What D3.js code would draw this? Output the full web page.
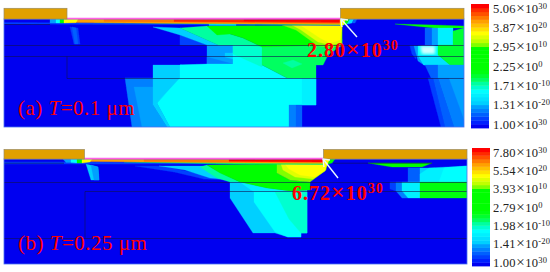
<!DOCTYPE html>
<html lang="en">
<head>
<meta charset="UTF-8">
<title>Contour panels</title>
<script src="https://d3js.org/d3.v7.min.js"></script>
<style>
html, body { margin: 0; padding: 0; background: #fff; }
svg { display: block; }
text { font-family: "Liberation Serif", serif; }
</style>
</head>
<body>
<svg width="550" height="272"></svg>
<script>
// colour bar levels, bottom to top
var levelColors = ['#0000f0', '#0020ff', '#0040ff', '#0060ff', '#0080ff', '#00a0ff', '#00d0ff', '#00e0ff',
    '#00f0ff', '#00ffff', '#00ffd0', '#00ffa0', '#00ff60', '#00ff30', '#00ff10', '#00ff00',
    '#00ff00', '#00ff00', '#00ff00', '#00ff00', '#00ff00', '#80ff00', '#c0ff00', '#e0ff00',
    '#ffff00', '#ffe000', '#ffc000', '#ffa000', '#ff7800', '#ff5000', '#ff2a00', '#ff0000'];

var tickMantissaA = ['1.00', '1.31', '1.71', '2.25', '2.95', '3.87', '5.06'];
var tickMantissaB = ['1.00', '1.41', '1.98', '2.79', '3.93', '5.54', '7.80'];
var tickExponents = ['30', '-20', '-10', '0', '10', '20', '30'];

// [level, outline] in panel units, painted in order
var regionsA = [
    [0, [[0, 0], [460, 0], [460, 108], [0, 108]]],
    [2, [[66, 8], [74, 9], [76, 25], [70, 25]]],
    [3, [[68, 8], [72, 9], [74, 25], [71, 25]]],
    [4, [[121, 59], [149, 59], [149, 108], [128, 108]]],
    [5, [[130, 68], [149, 68], [149, 86], [163, 108], [138, 108]]],
    [6, [[149, 46], [178, 46], [178, 59], [153, 84], [166, 108], [163, 108], [149, 86]]],
    [9, [[176, 46], [258, 46], [283, 59], [312, 59], [312, 86], [285, 86], [285, 108], [166, 108], [153, 84], [176, 59]]],
    [8, [[298, 59], [312, 59], [312, 86], [298, 86]]],
    [4, [[285, 86], [292, 86], [292, 108], [285, 108]]],
    [3, [[292, 86], [298, 86], [298, 108], [292, 108]]],
    [2, [[176, 16], [203, 26], [176, 26]]],
    [6, [[149, 8], [176, 9], [214, 26], [203, 26], [176, 16]]],
    [5, [[203, 26], [229, 26], [229, 45], [203, 45]]],
    [4, [[203, 38], [229, 45], [203, 45]]],
    [6, [[221, 34], [229, 34], [229, 40], [221, 38]]],
    [9, [[214, 26], [229, 26], [258, 27], [258, 46], [176, 46], [203, 45], [229, 45], [229, 26]]],
    [10, [[229, 26], [258, 27], [258, 48], [229, 35]]],
    [12, [[258, 27], [258, 46], [283, 59], [312, 59], [312, 46], [319, 46], [324, 36], [338, 26], [338, 20]]],
    [11, [[279, 44], [289, 41], [298, 45], [288, 49]]],
    [11, [[176, 9], [203, 7], [226, 15], [239, 19], [258, 28], [236, 26], [214, 26]]],
    [15, [[203, 7], [338, 6], [338, 26], [258, 28], [239, 19], [226, 15], [213, 16]]],
    [21, [[278, 6], [338, 6], [338, 27], [326, 28], [314, 27], [292, 11]]],
    [23, [[288, 6], [338, 6], [337, 24], [326, 26], [314, 23], [297, 11]]],
    [24, [[296, 6], [338, 6], [336, 21], [326, 24], [316, 19], [304, 11]]],
    // surface layer
    [2, [[0, 3.5], [336, 5], [336, 6.5], [0, 5]]],
    [6, [[205, 5], [232, 5], [232, 6.5], [205, 6.5]]],
    [12, [[90, 3.5], [336, 4.5], [336, 6], [240, 5]]],
    [27, [[63, 0], [336, 0], [336, 5.5], [63, 3.5]]],
    [28, [[100, 0], [336, 0], [336, 4.5], [100, 2.5]]],
    [30, [[170, 0.5], [336, 0], [336, 3.8], [170, 2.5]]],
    [31, [[240, 0.5], [336, 0], [336, 3], [240, 2]]],
    [5, [[46, 0], [52, 0], [52, 4], [46, 4]]],
    [9, [[52, 0], [56, 0], [56, 4], [52, 4]]],
    [15, [[56, 0], [60, 0], [60, 4], [56, 4]]],
    [24, [[60, 0], [74, 0], [72, 3.5], [60, 4]]],
    [24, [[336, 0], [342, 0], [340, 6], [336, 6]]],
    [15, [[342, 0], [346, 0], [343, 5], [340, 6]]],
    [7, [[346, 0], [350, 0], [348, 4], [343, 5]]],
    [3, [[350, 0], [353, 0], [351, 4], [348, 4]]],
    // right side
    [15, [[391, 5], [430, 6], [460, 7], [460, 9], [430, 9]]],
    [3, [[421, 9], [428, 9], [428, 26], [421, 26]]],
    [5, [[428, 9], [434, 9], [434, 26], [428, 26]]],
    [8, [[434, 9], [449, 9], [449, 26], [434, 26]]],
    [2, [[406, 27], [412, 27], [412, 40], [408, 35]]],
    [5, [[410, 27], [416, 27], [420, 46], [414, 42]]],
    [9, [[414, 27], [434, 27], [434, 36], [446, 46], [420, 46], [414, 36]]],
    [7, [[414, 36], [434, 36], [446, 46], [420, 46]]],
    [13, [[449, 12], [460, 9], [460, 46], [446, 46], [434, 36], [434, 26], [449, 26]]],
    [3, [[421, 46], [434, 46], [434, 59], [427, 59]]],
    [5, [[434, 46], [460, 46], [460, 59], [434, 59]]],
    [2, [[424, 59], [429, 59], [441, 108], [437, 108]]],
    [3, [[429, 59], [434, 59], [450, 108], [441, 108]]],
    [4, [[434, 59], [460, 59], [460, 108], [450, 108]]],
    [5, [[445, 59], [460, 59], [460, 100]]]
];

var regionsB = [
    [0, [[0, 0], [463, 0], [463, 105], [0, 105]]],
    [6, [[82, 5], [94, 8], [95, 21], [87, 21]]],
    [5, [[87, 6], [94, 8], [95, 21], [90, 21]]],
    [2, [[131, 7], [155, 7], [187, 13], [230, 21], [200, 20], [170, 13]]],
    [6, [[155, 7], [203, 7], [231, 21], [206, 19], [181, 11]]],
    [11, [[196, 8], [203, 6], [216, 14], [236, 23], [226, 23], [213, 19]]],
    [6, [[226, 23], [226, 39], [249, 74], [271, 74], [284, 78], [297, 78], [297, 74], [303, 74], [303, 31], [286, 32], [263, 29], [236, 23]]],
    [9, [[250, 33], [250, 43], [271, 73], [284, 78], [297, 78], [297, 74], [303, 74], [303, 33]]],
    [10, [[271, 33], [303, 33], [303, 74], [297, 74], [285, 60]]],
    [8, [[236, 23], [263, 29], [286, 32], [303, 32], [250, 33]]],
    [15, [[203, 6], [273, 5], [273, 14], [286, 21], [306, 23], [306, 31], [286, 32], [263, 29], [236, 23], [216, 14]]],
    [21, [[273, 5], [323, 5], [322, 11], [306, 23], [286, 21], [273, 14]]],
    [23, [[277, 5], [323, 5], [321, 12], [309, 20], [291, 18], [279, 11]]],
    [24, [[281, 5], [323, 5], [321, 11], [311, 18], [296, 16], [285, 10]]],
    // surface layer
    [2, [[0, 3], [80, 3], [319, 5], [0, 5]]],
    [12, [[120, 3], [319, 3.5], [319, 5.5], [230, 5]]],
    [27, [[81, 0], [319, 0], [319, 4.5], [81, 2.5]]],
    [28, [[140, 0], [319, 0], [319, 3.5], [140, 2.5]]],
    [31, [[225, 0.5], [319, 0], [319, 3], [225, 2.2]]],
    [5, [[59, 0], [67, 0], [67, 3.5], [62, 3.5]]],
    [9, [[67, 0], [73, 0], [73, 4], [67, 3.5]]],
    [15, [[73, 0], [78, 0], [78, 4], [73, 4]]],
    [24, [[78, 0], [88, 0], [86, 3], [78, 4]]],
    [24, [[319, 0], [326, 0], [324, 5], [319, 6]]],
    [15, [[326, 0], [331, 0], [328, 4], [324, 5]]],
    // right side
    [15, [[364, 4], [428, 4], [418, 8], [388, 8]]],
    [3, [[404, 9], [416, 9], [416, 23], [404, 23]]],
    [6, [[416, 9], [431, 9], [431, 23], [416, 23]]],
    [8, [[425, 9], [463, 7], [463, 23], [416, 23], [416, 15]]],
    [9, [[440, 9], [463, 7], [463, 23], [435, 23]]],
    [2, [[386, 23], [392, 23], [392, 32], [386, 30]]],
    [4, [[392, 23], [398, 23], [398, 32], [404, 39], [398, 39], [392, 32]]],
    [8, [[398, 23], [416, 23], [416, 39], [404, 39], [398, 32]]],
    [14, [[416, 23], [463, 23], [463, 39], [416, 39]]]
];

// pale patch on the right of panel (a)
var glareA = [[416, 27], [431, 27], [431, 35], [418, 35]];

var linesA = [[0, 26, 460, 26], [0, 37, 460, 37], [63, 59, 460, 59], [63, 37, 63, 59], [0, 5, 46, 5]];
var linesB = [[0, 23, 463, 23], [81, 32, 463, 32], [0, 79, 463, 79], [81, 32, 81, 79], [0, 3.7, 60, 3.7], [329, 3.7, 428, 3.7]];

var panels = [
    {
        regions: regionsA, lines: linesA, glare: glareA, w: 460, h: 108, x0: 4, y0: 19,
        gates: [[0, 63], [336.5, 460]], gateH: 10.7,
        peak: '2.80', peakX: 307, peakY: 57, tip: [337, 0], tail: [353, 18],
        name: '(a) ', val: '=0.1 μm', nameX: 18, nameY: 115,
        bar: [471, 489, 128, 4], mant: tickMantissaA, tickY: [125, 9]
    },
    {
        regions: regionsB, lines: linesB, glare: null, w: 463, h: 105, x0: 4, y0: 159,
        gates: [[0, 80.5], [319.5, 463]], gateH: 9.5,
        peak: '6.72', peakX: 292, peakY: 200, tip: [319, 0], tail: [334, 19],
        name: '(b) ', val: '=0.25 μm', nameX: 18, nameY: 250,
        bar: [472, 490, 266, 148], mant: tickMantissaB, tickY: [263, 153]
    }
];

var svg = d3.select('svg');
var defs = svg.append('defs');
defs.append('filter').attr('id', 'soft')
    .append('feGaussianBlur').attr('stdDeviation', 0.45);
defs.append('filter').attr('id', 'softer')
    .append('feGaussianBlur').attr('stdDeviation', 1.6);

var levelIdx = d3.range(levelColors.length);
var color = d3.scaleOrdinal().domain(levelIdx).range(levelColors);

panels.forEach(function(p, n) {
    var x = d3.scaleLinear().domain([0, p.w]).range([p.x0, p.x0 + p.w]);
    var y = d3.scaleLinear().domain([0, p.h]).range([p.y0, p.y0 + p.h]);
    var outline = d3.line().x(function(d) { return x(d[0]); }).y(function(d) { return y(d[1]); })
        .curve(d3.curveLinearClosed);

    var clipId = 'clip' + n;
    defs.append('clipPath').attr('id', clipId).append('rect')
        .attr('x', x(0)).attr('y', y(0)).attr('width', p.w).attr('height', p.h);

    var g = svg.append('g');
    g.append('g').attr('clip-path', 'url(#' + clipId + ')').attr('filter', 'url(#soft)')
        .selectAll('path').data(p.regions).enter().append('path')
        .attr('d', function(d) { return outline(d[1]); })
        .attr('fill', function(d) { return color(d[0]); })
        .attr('stroke', function(d) { return color(d[0]); })
        .attr('stroke-width', 0.3);

    if (p.glare) {
        g.append('path').attr('d', outline(p.glare))
            .attr('fill', '#d0ffff').attr('filter', 'url(#softer)');
    }

    g.selectAll('line.mesh').data(p.lines).enter().append('line')
        .attr('class', 'mesh')
        .attr('x1', function(d) { return x(d[0]); }).attr('y1', function(d) { return y(d[1]) + 0.5; })
        .attr('x2', function(d) { return x(d[2]); }).attr('y2', function(d) { return y(d[3]) + 0.5; })
        .attr('stroke', '#101050').attr('stroke-opacity', 0.75).attr('stroke-width', 0.8);

    // outer edge of the device
    g.append('rect').attr('x', x(0)).attr('y', y(0)).attr('width', p.w).attr('height', p.h)
        .attr('fill', 'none').attr('stroke', '#4a70f0').attr('stroke-width', 0.8);

    // surface line between the contacts
    g.append('line').attr('x1', x(p.gates[0][1])).attr('x2', x(p.gates[1][0]))
        .attr('y1', y(0) - 0.5).attr('y2', y(0) - 0.5)
        .attr('stroke', '#ff60e8').attr('stroke-width', 1.4);

    g.selectAll('rect.gate').data(p.gates).enter().append('rect')
        .attr('class', 'gate')
        .attr('x', function(d) { return x(d[0]); })
        .attr('y', y(0) - p.gateH)
        .attr('width', function(d) { return x(d[1]) - x(d[0]); })
        .attr('height', p.gateH)
        .attr('fill', '#e0a000').attr('stroke', '#9a8a60').attr('stroke-width', 0.7);

    // arrow to the peak
    var tip = [x(p.tip[0]), y(p.tip[1])], tail = [x(p.tail[0]), y(p.tail[1])];
    g.append('line').attr('x1', tail[0]).attr('y1', tail[1]).attr('x2', tip[0]).attr('y2', tip[1])
        .attr('stroke', '#e8f8ff').attr('stroke-width', 1.4);
    g.append('path').attr('d', 'M' + (tip[0] + 7) + ',' + (tip[1] + 1) + 'L' + tip[0] + ',' + tip[1] + 'L' + (tip[0] + 1) + ',' + (tip[1] + 8))
        .attr('fill', 'none').attr('stroke', '#e8f8ff').attr('stroke-width', 1.3);

    // peak label
    var peak = g.append('text').attr('x', p.peakX).attr('y', p.peakY)
        .attr('fill', '#ff0000').attr('font-weight', 'bold').attr('font-size', 20).attr('letter-spacing', 1);
    peak.append('tspan').text(p.peak);
    peak.append('tspan').attr('font-size', 24).text('×');
    peak.append('tspan').text('10');
    peak.append('tspan').attr('dy', -7).attr('font-size', 14).text('30');

    // panel name
    var name = g.append('text').attr('x', p.nameX).attr('y', p.nameY)
        .attr('fill', '#ff0000').attr('font-size', 21).attr('letter-spacing', 0.5);
    name.append('tspan').text(p.name);
    name.append('tspan').attr('font-style', 'italic').text('T');
    name.append('tspan').text(p.val);

    // colour bar
    var bar = d3.scaleBand().domain(levelIdx).range([p.bar[2], p.bar[3]]);
    g.selectAll('rect.band').data(levelIdx).enter().append('rect')
        .attr('class', 'band')
        .attr('x', p.bar[0]).attr('width', p.bar[1] - p.bar[0])
        .attr('y', function(d) { return bar(d); })
        .attr('height', bar.bandwidth() + 0.4)
        .attr('fill', function(d) { return color(d); });

    var tickPos = d3.scalePoint().domain(d3.range(p.mant.length)).range(p.tickY);
    var ticks = g.selectAll('text.tick').data(p.mant).enter().append('text')
        .attr('class', 'tick')
        .attr('x', 493)
        .attr('y', function(d, i) { return tickPos(i) + 3.5; })
        .attr('fill', '#222').attr('font-size', 12.5).attr('letter-spacing', 0.2);
    ticks.append('tspan').text(function(d) { return d; });
    ticks.append('tspan').attr('dx', 0.5).attr('font-size', 15).text('×');
    ticks.append('tspan').attr('dx', 0.5).text('10');
    ticks.append('tspan').attr('dy', -4).attr('font-size', 8.5)
        .text(function(d, i) { return tickExponents[i]; });
});
</script>
</body>
</html>
